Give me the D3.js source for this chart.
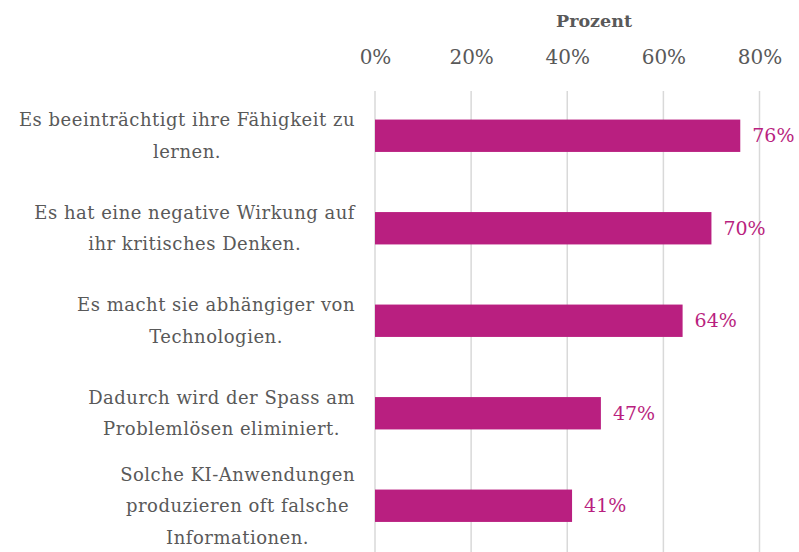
<!DOCTYPE html>
<html>
<head>
<meta charset="utf-8">
<script src="https://cdn.jsdelivr.net/npm/d3@7"></script>
<style>
  body { margin: 0; background: #fff; }
  text { font-family: "DejaVu Serif", serif; }
</style>
</head>
<body>
<svg width="799" height="552"></svg>
<script>
// Daten
const categories = [
    ["Es beeinträchtigt ihre Fähigkeit zu", "lernen."],
    ["Es hat eine negative Wirkung auf", "ihr kritisches Denken."],
    ["Es macht sie abhängiger von", "Technologien."],
    ["Dadurch wird der Spass am", "Problemlösen eliminiert."],
    ["Solche KI-Anwendungen", "produzieren oft falsche", "Informationen."]
];
const values = [76, 70, 64, 47, 41];
const ticks = [0, 20, 40, 60, 80];
const axisTitle = "Prozent";

const svg = d3.select("svg");
const height = +svg.attr("height");

const barColor = "#B91F80";
const textColor = "#595959";

const x = d3.scaleLinear().domain([0, 80]).range([375, 759.5]);
const y = d3.scaleBand()
    .domain(d3.range(categories.length))
    .range([89.5, 552])
    .paddingInner(0.65)
    .paddingOuter(0.325);

// Gitterlinien
svg.append("g")
    .selectAll("line")
    .data(ticks)
    .join("line")
    .attr("x1", d => x(d))
    .attr("x2", d => x(d))
    .attr("y1", 91)
    .attr("y2", height)
    .attr("stroke", "#d9d9d9")
    .attr("stroke-width", 1.5);

// Achse oben
const axis = svg.append("g")
    .attr("transform", "translate(0,64)")
    .call(d3.axisTop(x).tickValues(ticks).tickFormat(d => d + "%").tickSize(0).tickPadding(0));
axis.select(".domain").remove();
axis.selectAll("text")
    .attr("fill", textColor)
    .style("font-size", "20px")
    .style("font-family", "DejaVu Serif, serif");

svg.append("text")
    .attr("x", 594)
    .attr("y", 27)
    .attr("text-anchor", "middle")
    .attr("fill", textColor)
    .style("font-size", "17.5px")
    .style("font-weight", "bold")
    .text(axisTitle);

// Balken
svg.append("g")
    .selectAll("rect")
    .data(values)
    .join("rect")
    .attr("x", x(0))
    .attr("y", (d, i) => y(i))
    .attr("width", d => x(d) - x(0))
    .attr("height", y.bandwidth())
    .attr("fill", barColor);

// Werte
svg.append("g")
    .selectAll("text")
    .data(values)
    .join("text")
    .attr("x", d => x(d) + 12)
    .attr("y", (d, i) => y(i) + y.bandwidth() / 2)
    .attr("dy", "0.35em")
    .attr("fill", barColor)
    .style("font-size", "19px")
    .text(d => d + "%");

// Kategorien: Zeilen zentriert, Block rechtsbündig an der Achse
const lineH = 31.5;
const labelRight = 355;
const labels = svg.append("g")
    .selectAll("text")
    .data(categories)
    .join("text")
    .attr("text-anchor", "middle")
    .attr("fill", textColor)
    .style("font-size", "18px")
    .style("letter-spacing", "0.5px");

labels.selectAll("tspan")
    .data(d => d.map((t, j) => ({ t, j, n: d.length })))
    .join("tspan")
    .attr("x", 0)
    .attr("y", d => (d.j - (d.n - 1) / 2) * lineH)
    .attr("dy", "0.35em")
    .text(d => d.t);

labels.each(function(d, i) {
    let w = 0;
    d3.select(this).selectAll("tspan").each(function() {
        w = Math.max(w, this.getComputedTextLength());
    });
    d3.select(this).attr("transform",
        `translate(${labelRight - w / 2},${y(i) + y.bandwidth() / 2})`);
});
</script>
</body>
</html>
